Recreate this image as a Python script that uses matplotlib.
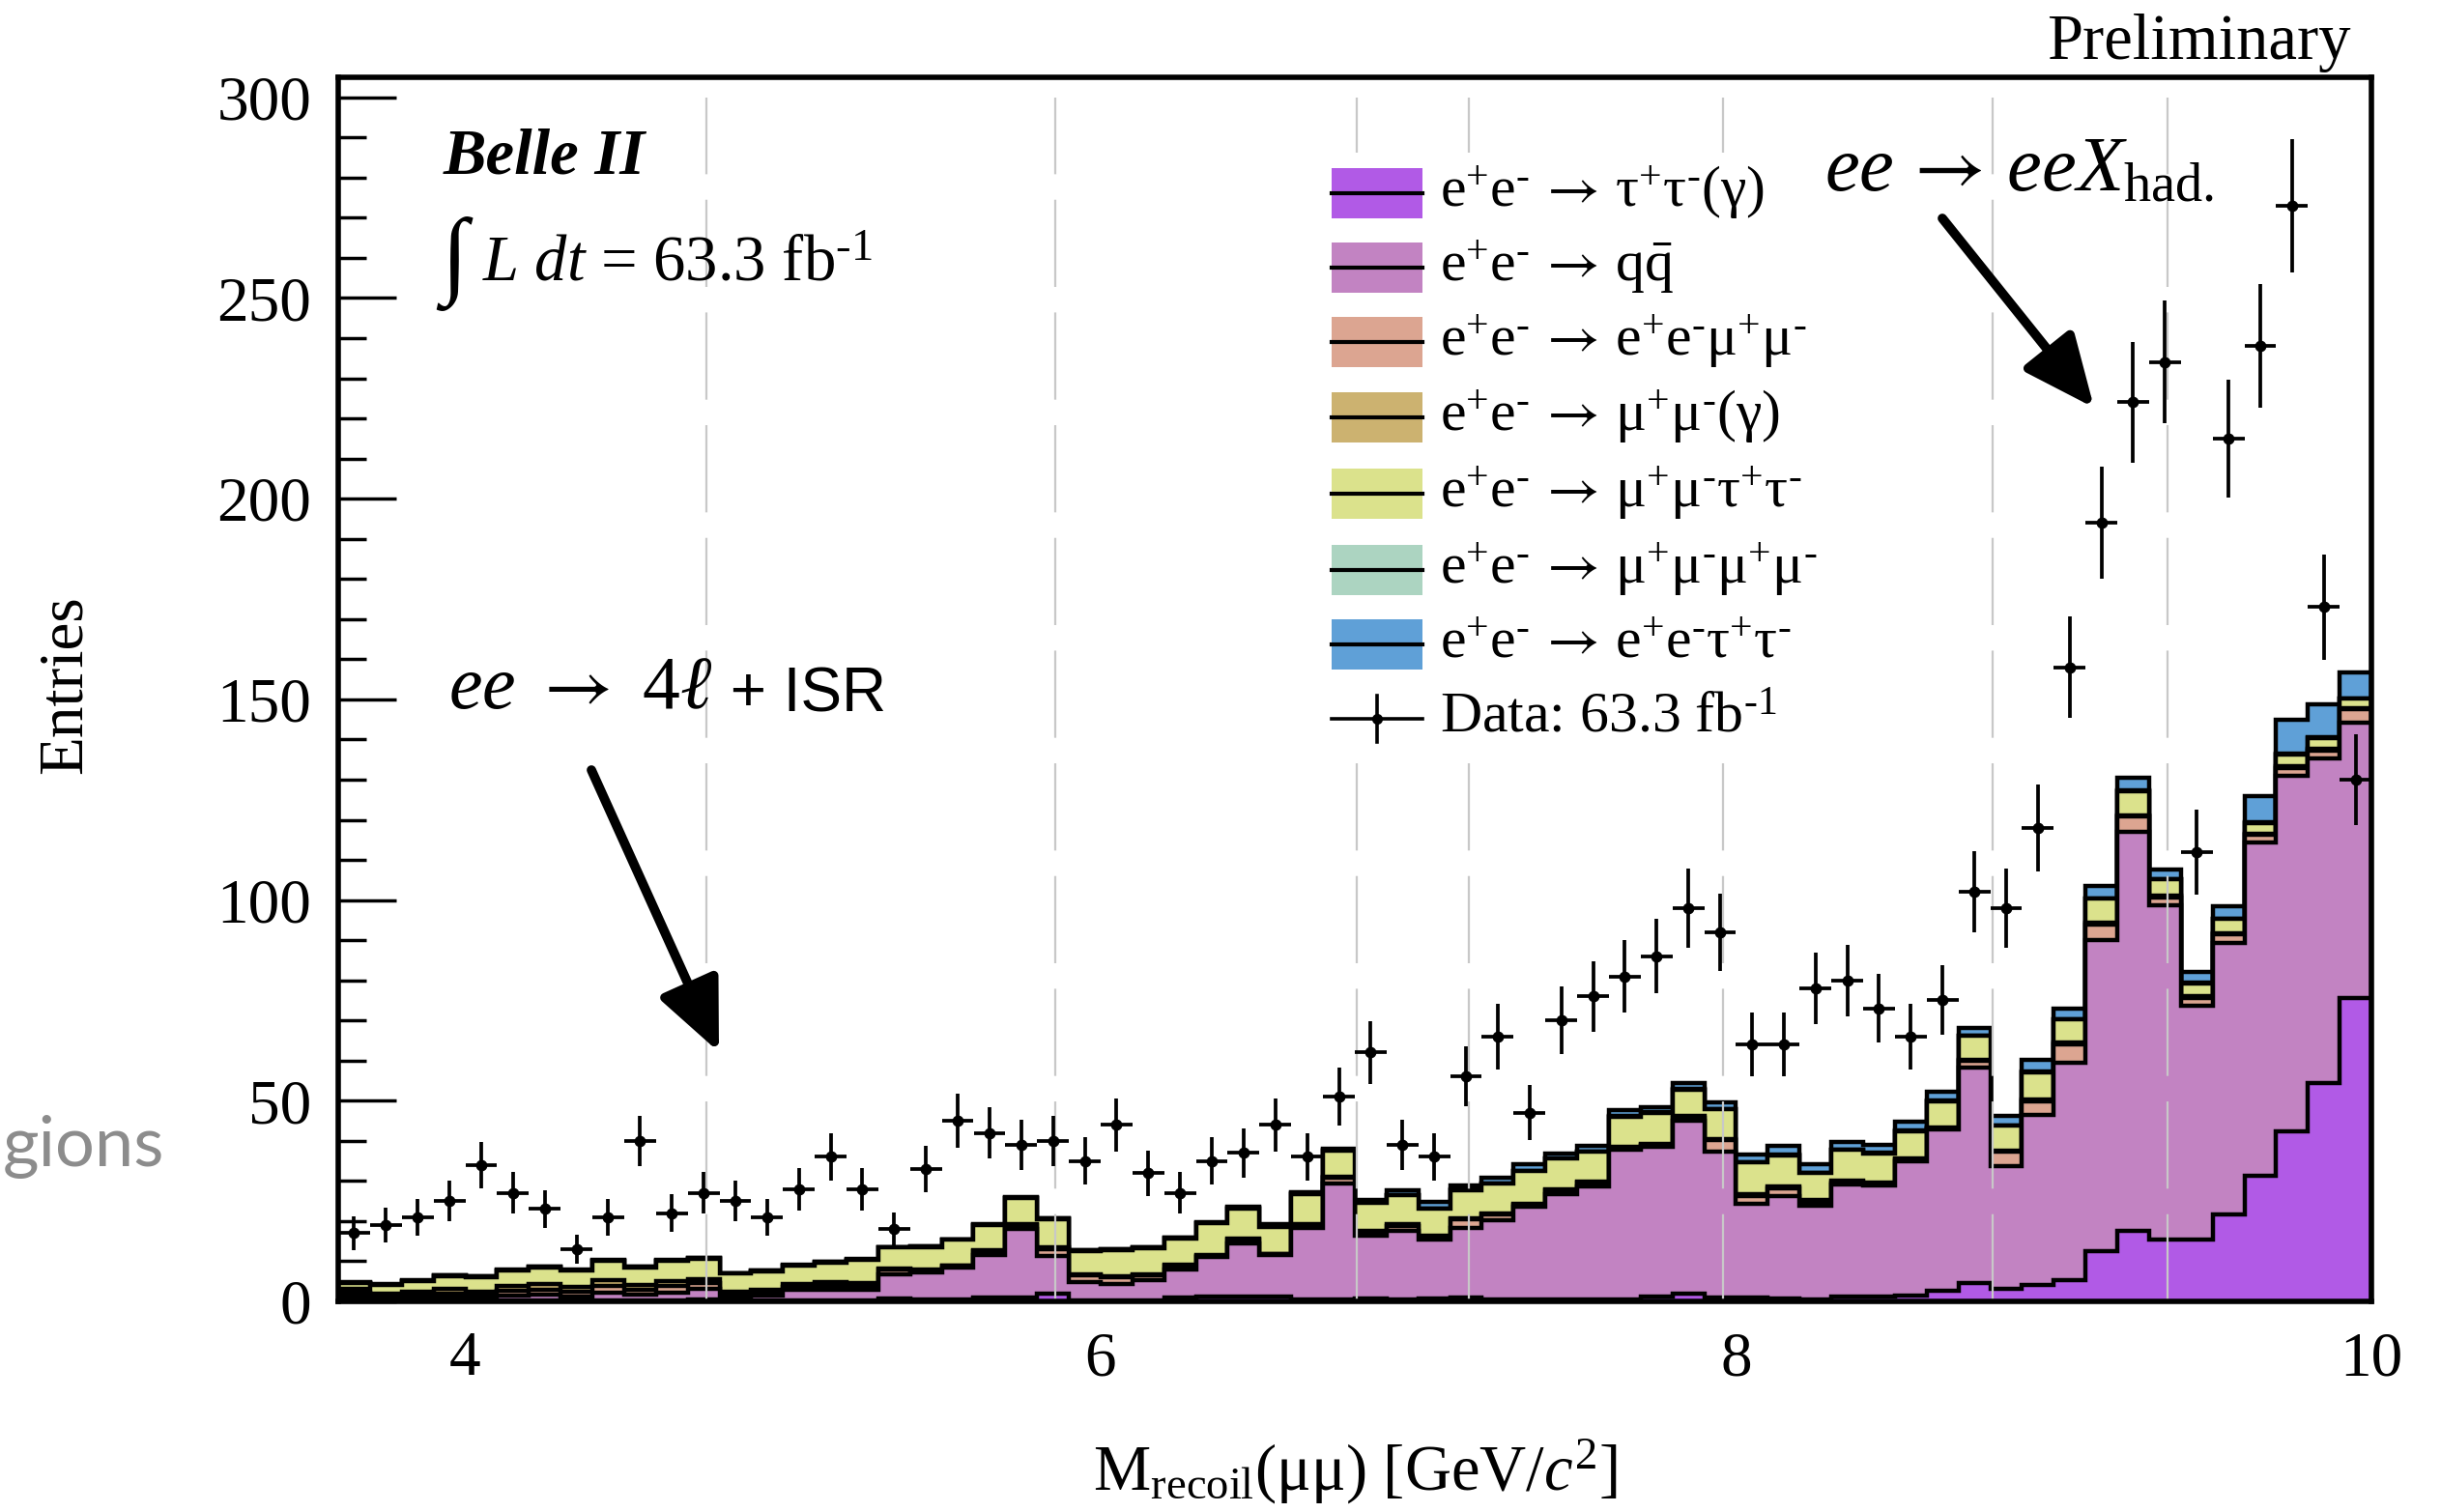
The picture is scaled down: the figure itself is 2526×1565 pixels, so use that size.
import numpy as np
import matplotlib
matplotlib.use("Agg")
import matplotlib.pyplot as plt
from matplotlib.patches import Rectangle
from matplotlib.lines import Line2D

plt.rcParams['font.family'] = ['Liberation Serif', 'DejaVu Serif']
plt.rcParams['mathtext.fontset'] = 'custom'
plt.rcParams['mathtext.rm'] = 'Liberation Serif'
plt.rcParams['mathtext.it'] = 'Liberation Serif:italic'
plt.rcParams['mathtext.bf'] = 'Liberation Serif:bold'
plt.rcParams['mathtext.sf'] = 'STIXGeneral'   # only used for the wider arrow
plt.rcParams['lines.scale_dashes'] = False

# binning: 64 bins of 0.1 GeV from 3.6 to 10
edges = np.linspace(3.6, 10.0, 65)
centers = 0.5 * (edges[:-1] + edges[1:])

# data counts per bin
data_counts = [17, 19, 21, 25, 34, 27, 23, 13, 21, 40,
               22, 27, 25, 21, 28, 36, 28, 18, 33, 45,
               42, 39, 40, 35, 44, 32, 27, 35, 37, 44,
               36, 51, 62, 39, 36, 56, 66, 47, 70, 76,
               81, 86, 98, 92, 64, 64, 78, 80, 73, 66,
               75, 102, 98, 118, 158, 194, 224, 234, 112, 215,
               238, 273, 173, 130]

# MC components (stacked from bottom to top)
tautau = [0.4, 0.2, 0.2, 0.3, 0.2, 0.3, 0.3, 0.3, 0.3, 0.3,
          0.3, 0.6, 0.2, 0.2, 0.2, 0.2, 0.2, 0.8, 0.5, 0.5,
          1.0, 1.0, 2.0, 0.3, 0.3, 0.3, 1.0, 1.2, 1.2, 1.2,
          0.5, 0.5, 0.8, 0.5, 0.7, 1.0, 0.5, 0.6, 0.6, 0.6,
          0.5, 1.3, 1.9, 1.0, 1.0, 0.7, 0.5, 1.1, 1.1, 1.5,
          2.6, 4.6, 3.1, 4.1, 5.2, 12.4, 17.5, 15.3, 15.3, 21.6,
          31.4, 42.3, 54.3, 75.5]
qqbar = [0.9, 0.5, 0.7, 0.9, 0.7, 1.2, 1.4, 1.0, 1.9, 1.3,
         1.9, 2.6, 1.0, 1.2, 2.6, 2.8, 2.8, 6.0, 6.7, 7.9,
         10.6, 17.0, 9.2, 4.5, 4.1, 5.1, 7.0, 9.8, 13.2, 10.3,
         17.9, 28.9, 15.6, 17.1, 14.7, 17.4, 19.7, 22.9, 26.1, 28.0,
         37.3, 37.2, 43.0, 36.4, 23.4, 25.5, 23.3, 28.1, 27.7, 33.5,
         40.2, 53.6, 30.6, 42.3, 54.3, 77.6, 99.5, 83.4, 58.4, 67.6,
         83.0, 88.6, 81.1, 68.8]
eemumu = [0.8, 0.5, 0.7, 0.8, 0.7, 1.1, 1.3, 1.0, 1.6, 1.2,
          1.6, 1.3, 0.5, 0.7, 0.8, 0.9, 0.8, 1.2, 0.6, 0.4,
          0.8, 0.9, 1.8, 1.6, 1.5, 1.1, 0.9, 0.4, 0.9, 0.2,
          0.6, 1.3, 0.9, 1.2, 0.7, 2.0, 1.4, 0.6, 1.0, 1.0,
          0.4, 0.5, 0.8, 2.7, 1.9, 2.0, 1.0, 0.5, 0.5, 0.4,
          0.3, 1.7, 3.6, 3.5, 4.6, 4.0, 3.8, 2.0, 2.0, 2.3,
          1.8, 2.1, 1.9, 3.3]
mumu_gamma = [1.0, 0.7, 0.9, 1.1, 0.9, 1.3, 1.3, 1.2, 1.4, 1.2,
              1.3, 1.1, 0.6, 0.7, 0.7, 0.8, 0.8, 0.3, 0.2, 0.2,
              0.3, 0.3, 0.4, 0.4, 0.3, 0.3, 0.3, 0.2, 0.3, 0.1,
              0.2, 0.3, 0.3, 0.4, 0.3, 0.4, 0.4, 0.3, 0.3, 0.3,
              0.3, 0.3, 0.4, 0.4, 0.4, 0.4, 0.4, 0.3, 0.3, 0.3,
              0.2, 0.4, 0.3, 0.3, 0.3, 0.3, 0.3, 0.3, 0.3, 0.3,
              0.3, 0.3, 0.3, 0.3]
mumu_tautau = [1.4, 2.2, 2.5, 3.2, 3.6, 3.8, 4.2, 4.2, 4.9, 4.5,
               5.0, 5.1, 4.6, 4.7, 4.6, 5.0, 5.7, 5.1, 5.6, 6.3,
               6.3, 6.5, 7.1, 5.8, 6.6, 6.5, 6.5, 7.9, 7.6, 6.8,
               7.6, 6.6, 7.0, 7.2, 6.7, 7.0, 7.3, 8.1, 7.6, 7.3,
               7.5, 7.7, 6.7, 7.3, 7.9, 7.8, 6.7, 7.8, 7.3, 6.7,
               6.6, 5.9, 6.1, 6.9, 5.8, 6.1, 6.1, 4.1, 3.3, 3.5,
               2.7, 3.0, 2.8, 2.3]
mumu_mumu = [0.1] * 64
ee_tautau = [0.1, 0.1, 0.1, 0.1, 0.1, 0.1, 0.1, 0.1, 0.1, 0.1,
             0.1, 0.1, 0.1, 0.1, 0.1, 0.1, 0.1, 0.1, 0.1, 0.1,
             0.1, 0.1, 0.1, 0.1, 0.2, 0.2, 0.2, 0.2, 0.2, 0.5,
             0.3, 0.3, 0.5, 1.2, 1.6, 0.9, 1.4, 1.5, 1.2, 1.4,
             1.6, 1.3, 1.6, 1.8, 2.0, 2.2, 2.2, 1.8, 2.0, 2.2,
             2.3, 1.9, 2.4, 2.9, 2.6, 3.1, 3.1, 2.5, 2.6, 3.1,
             6.5, 8.4, 8.3, 6.4]

ARW = r'\,\mathsf{\rightarrow}\,'
labels = [r'$\mathrm{e^{+}e^{\text{-}}}' + ARW + r'\mathrm{\tau^{+}\tau^{\text{-}}(\gamma)}$',
          r'$\mathrm{e^{+}e^{\text{-}}}' + ARW + r'\mathrm{q\bar{q}}$',
          r'$\mathrm{e^{+}e^{\text{-}}}' + ARW + r'\mathrm{e^{+}e^{\text{-}}\mu^{+}\mu^{\text{-}}}$',
          r'$\mathrm{e^{+}e^{\text{-}}}' + ARW + r'\mathrm{\mu^{+}\mu^{\text{-}}(\gamma)}$',
          r'$\mathrm{e^{+}e^{\text{-}}}' + ARW + r'\mathrm{\mu^{+}\mu^{\text{-}}\tau^{+}\tau^{\text{-}}}$',
          r'$\mathrm{e^{+}e^{\text{-}}}' + ARW + r'\mathrm{\mu^{+}\mu^{\text{-}}\mu^{+}\mu^{\text{-}}}$',
          r'$\mathrm{e^{+}e^{\text{-}}}' + ARW + r'\mathrm{e^{+}e^{\text{-}}\tau^{+}\tau^{\text{-}}}$']
colors = ['#b15ae6', '#c283c2', '#dca591', '#ccb270', '#dbe28c', '#acd4c1', '#5fa0d7']

# grey dashed markers
vline_pos = [4.758, 5.858, 6.805, 7.158, 7.958, 8.807, 9.357]

W, H = 2526, 1565
fig = plt.figure(figsize=(W / 100, H / 100), dpi=100)
ax = fig.add_axes([350 / W, 1 - 1347 / H, 2104 / W, 1267 / H])


def ax_x(px):
    return (px - 350) / 2104


def ax_y(py):
    return (1347 - py) / 1267


components = [tautau, qqbar, eemumu, mumu_gamma, mumu_tautau, mumu_mumu, ee_tautau]
for c in components:
    assert len(c) == 64
cum = np.cumsum(np.array(components), axis=0)

# draw like a stack: biggest first, each filled from zero with a black outline
for i in reversed(range(len(components))):
    ax.stairs(cum[i], edges, baseline=0, fill=True, facecolor=colors[i],
              edgecolor='none', zorder=2)
    ax.stairs(cum[i], edges, baseline=0, fill=False, color='k', lw=3.2, zorder=2)

for xv in vline_pos:
    ax.plot([xv, xv], [0, 300], color='#c8c8c8', lw=1.6, dashes=(65, 19), zorder=3)

# legend drawn by hand
ax.add_patch(Rectangle((ax_x(1368), ax_y(790)), ax_x(1900) - ax_x(1368), ax_y(158) - ax_y(790),
                       transform=ax.transAxes, fc='white', ec='none', zorder=4))
row_y = [200, 277, 354, 432, 511, 590, 667, 744]
bx0, bx1, bh = 1378, 1472, 52
for i in range(7):
    yc = row_y[i]
    ax.add_patch(Rectangle((ax_x(bx0), ax_y(yc + bh / 2)), ax_x(bx1) - ax_x(bx0),
                           ax_y(yc - bh / 2) - ax_y(yc + bh / 2), transform=ax.transAxes,
                           fc=colors[i], ec='none', zorder=5))
    ax.add_line(Line2D([ax_x(bx0), ax_x(bx1)], [ax_y(yc), ax_y(yc)], transform=ax.transAxes,
                       color='k', lw=3, zorder=6))
    ax.text(ax_x(1490), ax_y(yc), labels[i], transform=ax.transAxes, fontsize=43,
            va='center', ha='left', zorder=6)
yc = row_y[7]
ax.add_line(Line2D([ax_x(bx0), ax_x(bx1)], [ax_y(yc), ax_y(yc)], transform=ax.transAxes,
                   color='k', lw=2.6, zorder=6))
ax.add_line(Line2D([ax_x((bx0 + bx1) / 2)] * 2, [ax_y(yc + 24), ax_y(yc - 24)],
                   transform=ax.transAxes, color='k', lw=2.6, zorder=6))
ax.plot([ax_x((bx0 + bx1) / 2)], [ax_y(yc)], 'o', color='k', ms=7, transform=ax.transAxes, zorder=6)
ax.text(ax_x(1490), ax_y(yc), r'Data: 63.3 fb$^{\text{-}1}$', transform=ax.transAxes, fontsize=43,
        va='center', ha='left', zorder=6)

# data points
data = np.array(data_counts, dtype=float)
ax.errorbar(centers, data, xerr=0.05, yerr=np.sqrt(data), fmt='o', color='k', ms=7.5,
            elinewidth=2.7, capsize=0, zorder=7)

ax.set_xlim(3.6, 10)
ax.set_ylim(0, 305)
ax.set_yticks(range(0, 301, 50))
ax.set_yticks(range(0, 301, 10), minor=True)
ax.set_xticks([4, 6, 8, 10])
ax.set_axisbelow(False)
ax.tick_params(axis='y', which='major', direction='in', length=43, width=2.5, pad=20, labelsize=47)
ax.tick_params(axis='y', which='minor', direction='in', length=21, width=2.5)
ax.tick_params(axis='x', which='both', length=0, pad=22, labelsize=47)
for s in ax.spines.values():
    s.set_linewidth(4)
    s.set_zorder(10)

# texts
ax.text(ax_x(459), ax_y(180), 'Belle II', transform=ax.transAxes, fontsize=48,
        fontweight='bold', style='italic', va='baseline', ha='left', zorder=8)
ax.text(ax_x(456), ax_y(273), '\u222b', transform=ax.transAxes, fontsize=72,
        va='center', ha='left', zorder=8)
ax.text(ax_x(499), ax_y(290), r'$L\ dt$ = 63.3 fb$^{\text{-}1}$', transform=ax.transAxes,
        fontsize=48, va='baseline', ha='left', zorder=8)
t1 = ax.text(ax_x(464), ax_y(733), r'$ee\ \mathsf{\rightarrow}\ 4\ell$', transform=ax.transAxes,
             fontsize=56, va='baseline', ha='left', zorder=8)
ax.annotate(' + ISR', xy=(1, 0), xycoords=t1, va='bottom', ha='left', fontsize=46,
            family=['Liberation Sans', 'DejaVu Sans'], zorder=8)
ax.text(ax_x(1888), ax_y(197), r'$ee' + ARW + r'eeX_{\mathrm{had.}}$', transform=ax.transAxes,
        fontsize=58, va='baseline', ha='left', zorder=8)

fig.text(2433 / W, 1 - 61 / H, 'Preliminary', fontsize=48, ha='right', va='baseline')
fig.text(68 / W, 1 - 709 / H, 'Entries', fontsize=47, rotation=90, ha='center', va='center')
fig.text(1402 / W, 1 - 1543 / H, r'M$_{\mathrm{recoil}}$(μμ) [GeV/$c^{2}$]', fontsize=48,
         ha='center', va='baseline')
fig.text(3 / W, 1 - 1187 / H, 'gions', fontsize=52, ha='left', va='center',
         color='#8c8c8c', family=['Lato', 'Liberation Sans'])

# arrows
arrow_kw = dict(arrowstyle='-|>,head_length=0.45,head_width=0.2', lw=7, color='k',
                mutation_scale=100, shrinkA=0, shrinkB=0)
ax.annotate('', xy=(744 / W, 1 - 1089 / H), xytext=(612 / W, 1 - 797 / H),
            xycoords='figure fraction', textcoords='figure fraction', arrowprops=arrow_kw)
ax.annotate('', xy=(2167 / W, 1 - 422 / H), xytext=(2010 / W, 1 - 226 / H),
            xycoords='figure fraction', textcoords='figure fraction', arrowprops=arrow_kw)

fig.savefig('out.png', dpi=100)
